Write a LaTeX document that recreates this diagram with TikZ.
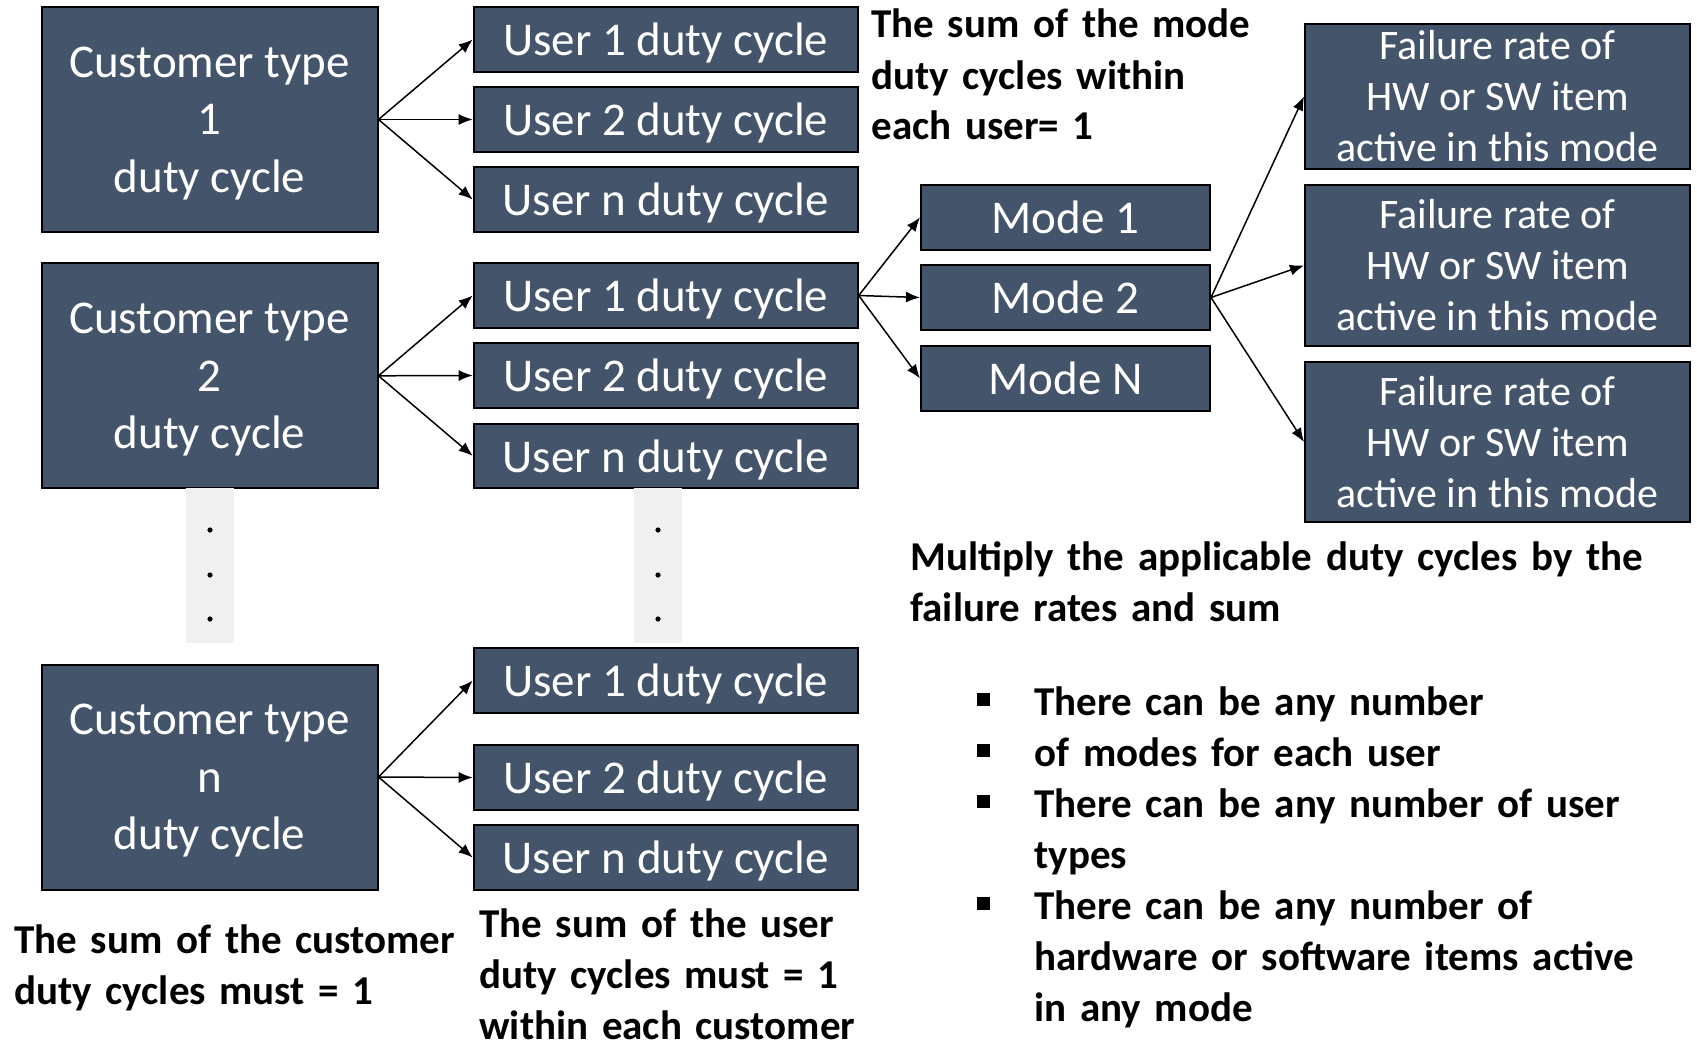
\documentclass[tikz,border=0pt]{standalone}
\usepackage{fontspec}
\setmainfont{Carlito}
\usetikzlibrary{arrows.meta}

\definecolor{slate}{HTML}{44546A}
\definecolor{gapgray}{HTML}{F0F0F0}

\tikzset{
  dcbox/.style={draw=black, line width=1pt, fill=slate, text=white, inner sep=0pt, align=center},
  custbox/.style={dcbox, minimum width=168pt, minimum height=112.5pt, text depth=0pt, font=\fontsize{23.5}{28.75}\selectfont},
  userbox/.style={dcbox, minimum width=192pt, minimum height=32.2pt, text depth=0pt, font=\fontsize{23.5}{28}\selectfont},
  modebox/.style={dcbox, minimum width=144.5pt, minimum height=32.5pt, text depth=0pt, font=\fontsize{23.5}{28}\selectfont},
  ratebox/.style={dcbox, minimum width=192.5pt, font=\fontsize{21}{25.5}\selectfont},
  gapstrip/.style={fill=gapgray, inner sep=0pt, minimum width=24pt, minimum height=77.5pt},
  flow/.style={-{Latex[length=7pt,width=5.5pt]}, line width=0.75pt},
  note/.style={anchor=base west, align=left, inner sep=0pt, text width=400pt, font=\bfseries\fontsize{20.5}{25.5}\selectfont}
}

\begin{document}
\begin{tikzpicture}[x=0.5pt, y=-0.5pt]
\useasboundingbox (0,0) rectangle (1697,1044);

% customer types
\node[custbox] (cust1) at (209.5,119.5) {Customer type\\1\\duty cycle};
\node[custbox] (cust2) at (209.5,375.8) {Customer type\\2\\duty cycle};
\node[custbox] (custn) at (209.5,777) {Customer type\\n\\duty cycle};

% users of each customer type
\node[userbox] (u1a) at (665.7,39.5) {User 1 duty cycle};
\node[userbox] (u2a) at (665.7,119.5) {User 2 duty cycle};
\node[userbox] (una) at (665.7,199.5) {User n duty cycle};

\node[userbox] (u1b) at (665.7,295.5) {User 1 duty cycle};
\node[userbox] (u2b) at (665.7,375.5) {User 2 duty cycle};
\node[userbox] (unb) at (665.7,455.8) {User n duty cycle};

\node[userbox] (u1c) at (665.7,680.5) {User 1 duty cycle};
\node[userbox] (u2c) at (665.7,777.5) {User 2 duty cycle};
\node[userbox] (unc) at (665.7,857.5) {User n duty cycle};

% modes of user 1
\node[modebox] (mode1) at (1065.5,217.4) {Mode 1};
\node[modebox] (mode2) at (1065.5,297.5) {Mode 2};
\node[modebox] (modeN) at (1065.5,378.5) {Mode N};

% failure rates in mode 2
\node[ratebox, minimum height=72.5pt] (rate1) at (1497.5,96.4) {Failure rate of\\HW or SW item\\active in this mode};
\node[ratebox, minimum height=80.5pt] (rate2) at (1497.5,265.4) {Failure rate of\\HW or SW item\\active in this mode};
\node[ratebox, minimum height=80pt] (rate3) at (1497.5,442) {Failure rate of\\HW or SW item\\active in this mode};

% "more of the same" strips
\node[gapstrip] (gapcust) at (210,565.5) {};
\node[gapstrip] (gapuser) at (658,565.5) {};
\foreach \dy in {530,575,619} {
  \fill (gapcust.center |- 0,\dy) circle (1.3pt);
  \fill (gapuser.center |- 0,\dy) circle (1.3pt);
}

% arrows
\foreach \t in {u1a,u2a,una} \draw[flow] (cust1.east) -- (\t.west);
\foreach \t in {u1b,u2b,unb} \draw[flow] (cust2.east) -- (\t.west);
\foreach \t in {u1c,u2c,unc} \draw[flow] (custn.east) -- (\t.west);
\foreach \t in {mode1,mode2,modeN} \draw[flow] (u1b.east) -- (\t.west);
\foreach \t in {rate1,rate2,rate3} \draw[flow] (mode2.east) -- (\t.west);

% notes
\node[note] (modesum) at (871,38) {The sum of the mode\\duty cycles within\\each user= 1};
\node[note] (multiply) at (910,570) {Multiply the applicable duty cycles by the\\failure rates and sum};
\node[note] (anynum) at (1034,715) {There can be any number\\of modes for each user\\There can be any number of user\\types\\There can be any number of\\hardware or software items active\\in any mode};
\foreach \by in {715,766,817,919} \fill (977,\by-22) rectangle +(13,13);
\node[note] (custsum) at (14,953) {The sum of the customer\\duty cycles must = 1};
\node[note] (usersum) at (479,937) {The sum of the user\\duty cycles must = 1\\within each customer};

\end{tikzpicture}
\end{document}
